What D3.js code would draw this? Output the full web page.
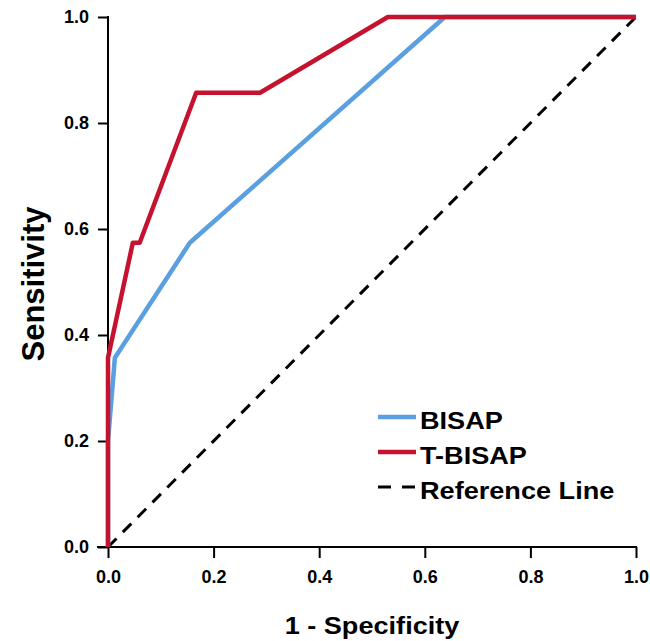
<!DOCTYPE html>
<html>
<head>
<meta charset="utf-8">
<script src="https://cdn.jsdelivr.net/npm/d3@7"></script>
<style>
  html, body { margin: 0; padding: 0; background: #fff; }
  svg { display: block; }
  text { font-family: "Liberation Sans", Arial, sans-serif; font-weight: bold; fill: #000; }
</style>
</head>
<body>
<svg id="chart" width="650" height="641"></svg>
<script>
// ---- data ----
const tickValues = [0.0, 0.2, 0.4, 0.6, 0.8, 1.0];
const seriesNames = ["BISAP", "T-BISAP", "Reference Line"];
const bisapFPR = [0.0, 0.0, 0.013, 0.155, 0.638, 1.0];
const bisapTPR = [0.0, 0.2, 0.357, 0.574, 1.0, 1.0];
const tbisapFPR = [0.0, 0.0, 0.047, 0.06, 0.167, 0.288, 0.53, 1.0];
const tbisapTPR = [0.0, 0.357, 0.574, 0.574, 0.857, 0.857, 1.0, 1.0];
const refFPR = [0.0, 1.0];
const refTPR = [0.0, 1.0];

const colors = { "BISAP": "#5a9fe0", "T-BISAP": "#c4122f", "Reference Line": "#000" };

const svg = d3.select("#chart");
const x = d3.scaleLinear().domain([0, 1]).range([108, 636]);
const y = d3.scaleLinear().domain([0, 1]).range([547, 17]);

// axes
const xAxis = d3.axisBottom(x).tickValues(tickValues).tickFormat(d3.format(".1f")).tickSize(11).tickPadding(12);
const yAxis = d3.axisLeft(y).tickValues(tickValues).tickFormat(d3.format(".1f")).tickSize(10).tickPadding(9);

const gx = svg.append("g").attr("transform", "translate(0,547)").call(xAxis);
const gy = svg.append("g").attr("transform", "translate(108,0)").call(yAxis);
[gx, gy].forEach(g => {
  g.select(".domain").remove();
  g.selectAll(".tick line").attr("stroke", "#000").attr("stroke-width", 2);
  g.selectAll(".tick text").style("font-size", "18px").style("font-family", "'Liberation Sans', Arial, sans-serif").style("font-weight", "bold").attr("fill", "#000");
});
// axis lines
svg.append("line").attr("x1", 97).attr("x2", x(1) + 1).attr("y1", y(0)).attr("y2", y(0)).attr("stroke", "#000").attr("stroke-width", 2);
svg.append("line").attr("x1", x(0)).attr("x2", x(0)).attr("y1", y(0)).attr("y2", y(1) - 1).attr("stroke", "#000").attr("stroke-width", 2);

const line = d3.line().x(d => x(d[0])).y(d => y(d[1]));

// reference line
svg.append("path").datum(d3.zip(refFPR, refTPR)).attr("d", line)
  .attr("fill", "none").attr("stroke", "#000").attr("stroke-width", 3).attr("stroke-dasharray", "12,9");
// BISAP
svg.append("path").datum(d3.zip(bisapFPR, bisapTPR)).attr("d", line)
  .attr("fill", "none").attr("stroke", colors["BISAP"]).attr("stroke-width", 4.5).attr("stroke-linejoin", "round");
// T-BISAP
svg.append("path").datum(d3.zip(tbisapFPR, tbisapTPR)).attr("d", line)
  .attr("fill", "none").attr("stroke", colors["T-BISAP"]).attr("stroke-width", 4.5).attr("stroke-linejoin", "round");

// legend
const leg = svg.append("g");
seriesNames.forEach((name, i) => {
  const ly = 417 + i * 35;
  const l = leg.append("line").attr("x1", 378).attr("x2", 416).attr("y1", ly).attr("y2", ly)
    .attr("stroke", colors[name]).attr("stroke-width", name === "Reference Line" ? 3 : 4.5);
  if (name === "Reference Line") l.attr("stroke-dasharray", "13,11");
  leg.append("text").attr("transform", `translate(420,${ly + 12}) scale(1.13,1)`)
    .style("font-size", "24px").text(name);
});

// axis titles
svg.append("text").attr("transform", `translate(${(x(0) + x(1)) / 2},634) scale(1.13,1)`)
  .attr("text-anchor", "middle").style("font-size", "24px").text("1 - Specificity");
svg.append("text").attr("transform", `translate(44,${(y(0) + y(1)) / 2 + 2}) rotate(-90)`)
  .attr("text-anchor", "middle").style("font-size", "31px").text("Sensitivity");
</script>
</body>
</html>
